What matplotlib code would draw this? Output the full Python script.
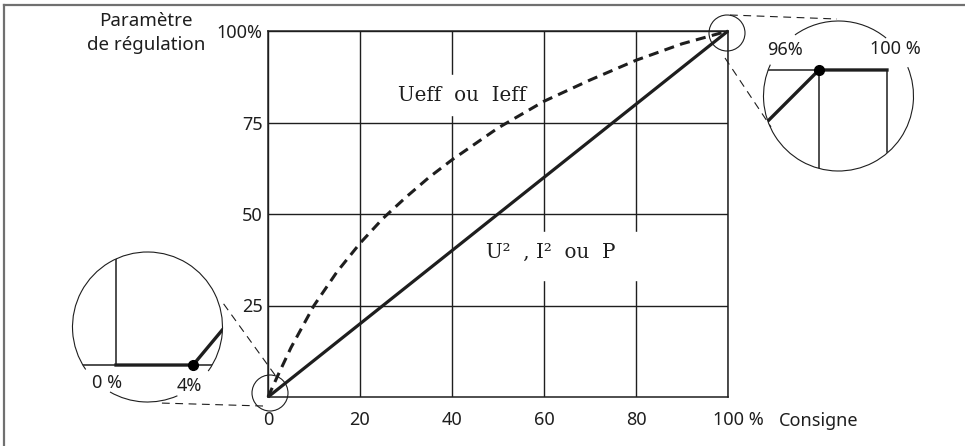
import matplotlib
matplotlib.use("Agg")
import matplotlib.pyplot as plt
from matplotlib.patches import Circle, Arc, Rectangle
from matplotlib.transforms import ScaledTranslation

INK = "#1e1e1e"
FRAME = "#707070"
SANS = "Noto Sans"
SERIF = "DejaVu Serif"

# main chart data (consigne in %, parametre in %)
consigne = [0, 20, 40, 60, 80, 100]
p_lin = [0, 20, 40, 60, 80, 100]  # U², I² ou P
eff_x = [0, 2, 5, 10, 15, 20, 25, 30, 35, 40, 50, 60, 70, 80, 90, 100]
eff_y = [0, 5.5, 13.5, 25, 34.2, 42, 48.8, 54.6, 60, 64.8, 73.5, 80.8, 86.6, 92, 96.5, 100]
xtick_vals = [0, 20, 40, 60, 80, 100]
xtick_labels = ["0", "20", "40", "60", "80", "100 %"]
ytick_vals = [25, 50, 75, 100]
ytick_labels = ["25", "50", "75", "100%"]

# zoom details: 4 % dead band at each end
low_x = [0, 4, 6]
low_y = [0, 0, 2.4]
high_x = [92, 96, 100]
high_y = [96, 100, 100]

W, H = 965, 446
FS = 13
fig = plt.figure(figsize=(W / 100, H / 100), dpi=100)
fig.patch.set_facecolor("white")


def rect(l, t, r, b):
    return [l / W, 1 - b / H, (r - l) / W, (b - t) / H]


ax = fig.add_axes(rect(268, 31, 728, 397))
ax.set_xlim(0, 100)
ax.set_ylim(0, 100)
for s in ax.spines.values():
    s.set_color(INK)
    s.set_linewidth(1.1)
ax.set_xticks(xtick_vals)
ax.set_xticklabels(xtick_labels, fontsize=FS, family=SANS, color=INK)
ax.set_yticks(ytick_vals)
ax.set_yticklabels(ytick_labels, fontsize=FS, family=SANS, color=INK)
ax.tick_params(axis="x", length=0, pad=10)
ax.tick_params(axis="y", length=0, pad=4)
last = ax.get_xticklabels()[-1]
last.set_transform(last.get_transform() + ScaledTranslation(10 / 100, 0, fig.dpi_scale_trans))
ax.grid(color=INK, linewidth=1.0)
ax.set_axisbelow(True)

# white masks behind the curve names
ax.add_patch(Rectangle((26.5, 77), 25, 11, color="white", zorder=2.5))
ax.add_patch(Rectangle((46, 32), 36, 13, color="white", zorder=2.5))

ax.plot(consigne, p_lin, color=INK, linewidth=2.3, zorder=4, clip_on=False,
        solid_capstyle="butt")
ax.plot(eff_x, eff_y, color=INK, linewidth=2.2, dashes=(3.3, 2.1), zorder=4,
        clip_on=False)

ax.text(28.3, 82.5, "Ueff  ou  Ieff", fontsize=14.3, family=SERIF, color=INK,
        va="center", ha="left", zorder=3)
ax.text(47.3, 39.5, "U\u00b2  , I\u00b2  ou  P", fontsize=14.3, family=SERIF,
        color=INK, va="center", ha="left", zorder=3)
ax.text(1.111, -0.065, "Consigne", transform=ax.transAxes, fontsize=FS,
        family=SANS, color=INK, va="center", ha="left")

# overlay in pixel coordinates for frame, magnifier circles and connectors
ov = fig.add_axes([0, 0, 1, 1])
ov.set_xlim(0, W)
ov.set_ylim(H, 0)
ov.axis("off")
ov.patch.set_alpha(0)
ov.plot([4, 4], [H, 5], color=FRAME, linewidth=1.6)
ov.plot([4, W], [5, 5], color=FRAME, linewidth=1.6)
for c in ((270, 393), (727, 33)):
    ov.add_patch(Circle(c, 18, fill=False, edgecolor=INK, linewidth=0.8))
dash_kw = dict(color=INK, linewidth=0.8, dashes=(7, 5))
ov.plot([275, 223], [375, 303], **dash_kw)
ov.plot([263, 159], [406, 403], **dash_kw)
ov.plot([730, 837], [15, 19], **dash_kw)
ov.plot([725, 771], [58, 127], **dash_kw)


def inset(box, xlim, ylim, arcs):
    a = fig.add_axes(rect(*box))
    a.set_xlim(*xlim)
    a.set_ylim(*ylim)
    a.axis("off")
    a.patch.set_alpha(0)
    clip = Circle((0.5, 0.5), 0.5, transform=a.transAxes)
    for t1, t2 in arcs:
        a.add_patch(Arc((0.5, 0.5), 1, 1, theta1=t1, theta2=t2, clip_on=False,
                        transform=a.transAxes, color=INK, linewidth=0.8))
    return a, clip


# low end: 0 % .. 4 %
a1, c1 = inset((72.5, 252, 222.5, 402), (-2.26, 5.53), (-1.92, 5.87),
               [(240, 293.5), (-36, 214.5)])
for ln in (a1.plot([-3, 7], [0, 0], color=INK, linewidth=1.1)
           + a1.plot([0, 0], [0, 7], color=INK, linewidth=1.1)
           + a1.plot(low_x, low_y, color=INK, linewidth=2.4)):
    ln.set_clip_path(c1)
a1.plot([low_x[1]], [low_y[1]], "o", color="black", markersize=7)
a1.text(-0.47, -0.95, "0 %", fontsize=FS, family=SANS, color=INK,
        ha="center", va="center")
a1.text(3.8, -1.1, "4%", fontsize=FS, family=SANS, color=INK,
        ha="center", va="center")

# high end: 96 % .. 100 %
a2, c2 = inset((763.5, 21, 913.5, 171), (92.74, 101.56), (94.06, 102.88),
               [(50.6, 125.5), (155.3, 382.6)])
for ln in (a2.plot([90, 100], [100, 100], color=INK, linewidth=1.1)
           + a2.plot([96, 96], [90, 100], color=INK, linewidth=1.1)
           + a2.plot([100, 100], [95.2, 100], color=INK, linewidth=1.1)
           + a2.plot(high_x, high_y, color=INK, linewidth=2.4)):
    ln.set_clip_path(c2)
a2.plot([high_x[1]], [high_y[1]], "o", color="black", markersize=7)
a2.text(94.0, 101.18, "96%", fontsize=FS, family=SANS, color=INK,
        ha="center", va="center")
a2.text(100.47, 101.24, "100 %", fontsize=FS, family=SANS, color=INK,
        ha="center", va="center")

# axis title
ov.text(146, 33, "Paramètre\nde régulation", fontsize=13.5, family=SANS,
        color=INK, ha="center", va="center", linespacing=1.45)

fig.savefig("out.png", dpi=100, facecolor="white")
